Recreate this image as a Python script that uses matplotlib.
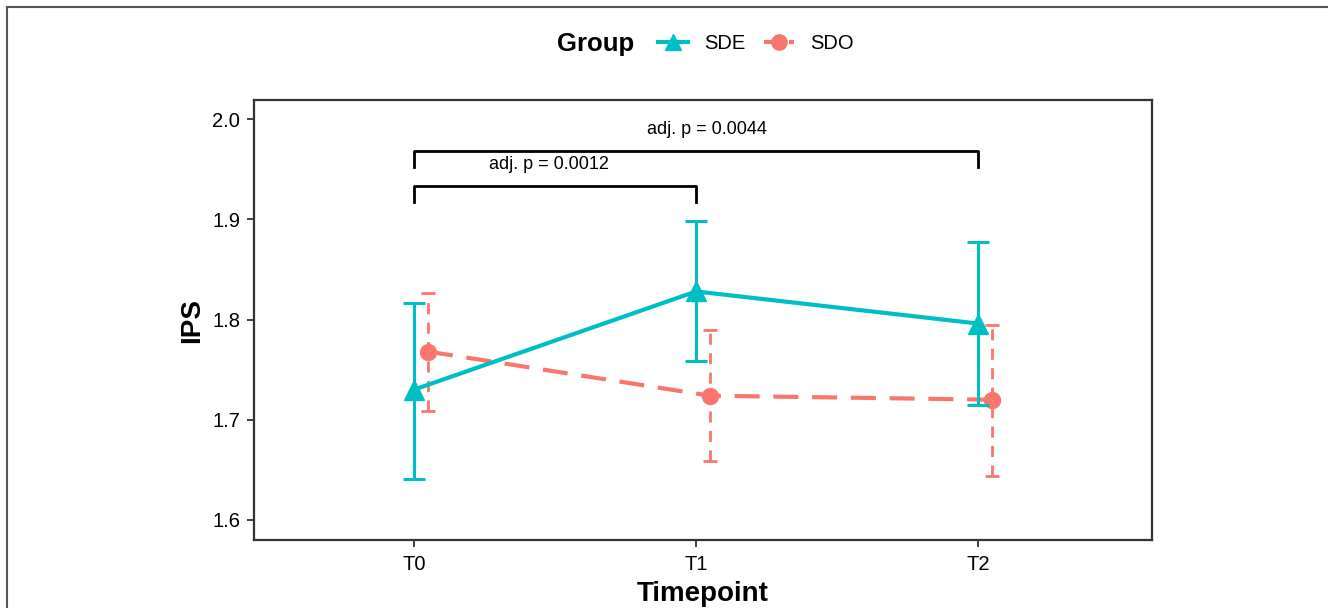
import numpy as np
import matplotlib.pyplot as plt
from matplotlib.lines import Line2D

plt.rcParams['font.family'] = ['Liberation Sans', 'DejaVu Sans']

timepoints = ["T0", "T1", "T2"]
sde_mean = [1.730, 1.828, 1.796]
sde_low = [1.641, 1.759, 1.715]
sde_high = [1.816, 1.898, 1.877]
sdo_mean = [1.768, 1.724, 1.720]
sdo_low = [1.709, 1.659, 1.644]
sdo_high = [1.826, 1.790, 1.795]
brackets = [("T0", "T1", "adj. p = 0.0012"), ("T0", "T2", "adj. p = 0.0044")]

teal = "#00BFC4"
salmon = "#F8766D"

fig = plt.figure(figsize=(13.28, 6.08), dpi=100)
ax = fig.add_axes([0.1913, 0.1118, 0.6762, 0.7237])

x = np.arange(len(timepoints))
x_sdo = x + 0.05

sde_m = np.array(sde_mean)
sdo_m = np.array(sdo_mean)

ax.errorbar(x, sde_m, yerr=[sde_m - np.array(sde_low), np.array(sde_high) - sde_m],
            color=teal, lw=3, marker="^", ms=14, capsize=8, elinewidth=2.2,
            capthick=2.2, zorder=3)
eb2 = ax.errorbar(x_sdo, sdo_m, yerr=[sdo_m - np.array(sdo_low), np.array(sdo_high) - sdo_m],
                  color=salmon, lw=3, ls=(0, (6, 3.3)), marker="o", ms=11.5, capsize=5,
                  elinewidth=2, capthick=2, zorder=2)
eb2[2][0].set_linestyle((0, (4, 3)))

# significance brackets
levels = [1.933, 1.968]
text_x = [0.48, 1.04]
for (a, b, lab), yb, tx in zip(brackets, levels, text_x):
    xa, xb = timepoints.index(a), timepoints.index(b)
    ax.plot([xa, xa, xb, xb], [yb - 0.016, yb, yb, yb - 0.016], color="black", lw=2)
    ax.text(tx, yb + 0.013, lab, ha="center", va="bottom", fontsize=13)

ax.set_xlim(-0.567, 2.617)
ax.set_ylim(1.58, 2.019)
ax.set_xticks(x)
ax.set_xticklabels(timepoints)
ax.set_yticks([1.6, 1.7, 1.8, 1.9, 2.0])
ax.set_yticklabels(["1.6", "1.7", "1.8", "1.9", "2.0"])
ax.tick_params(axis="both", labelsize=14.5, length=5, width=1.3, color="#333333",
               direction="out", pad=5)
ax.tick_params(axis="x", pad=6)
for s in ax.spines.values():
    s.set_color("#333333")
    s.set_linewidth(1.6)

ax.set_xlabel("Timepoint", fontsize=20, fontweight="bold", labelpad=5)
ax.set_ylabel("IPS", fontsize=20, fontweight="bold", labelpad=5)

# legend at top
fig.text(0.4195, 0.928, "Group", fontsize=18.5, fontweight="bold", ha="left", va="center")
handles = [Line2D([], [], color=teal, lw=3, marker="^", ms=12),
           Line2D([], [], color=salmon, lw=3, ls=(0, (2, 1)), marker="o", ms=11)]
fig.legend(handles, ["SDE", "SDO"], loc="center left", bbox_to_anchor=(0.485, 0.928),
           ncol=2, frameon=False, fontsize=14.5, handlelength=1.5, columnspacing=0.9,
           handletextpad=0.8, borderpad=0.2)

# outer frame (top and left visible)
fig.add_artist(Line2D([0.0053, 1.0], [0.988, 0.988], color="#555555", lw=1.5,
                      transform=fig.transFigure))
fig.add_artist(Line2D([0.0053, 0.0053], [0.0, 0.988], color="#555555", lw=1.5,
                      transform=fig.transFigure))

fig.savefig("out.png", dpi=100)
